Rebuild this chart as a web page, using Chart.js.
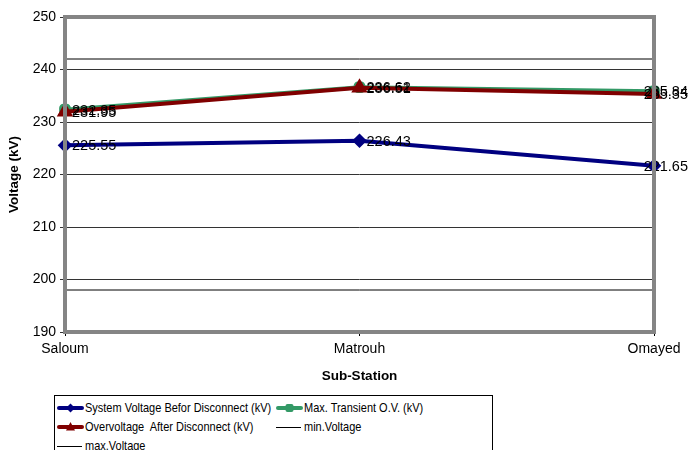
<!DOCTYPE html>
<html>
<head>
<meta charset="utf-8">
<script src="https://cdn.jsdelivr.net/npm/chart.js@4.4.1/dist/chart.umd.min.js"></script>
<style>
  html, body { margin: 0; padding: 0; background: #fff; }
  #wrap { position: relative; width: 688px; height: 450px; overflow: hidden; }
  #chart { position: absolute; left: 0; top: 0; }
  #legend {
    position: absolute; left: 54px; top: 395px; width: 439px; height: 70px;
    border: 1px solid #000; box-sizing: border-box; background: #fff;
    font-family: "Liberation Sans", Arial, sans-serif; font-size: 13px; color: #000;
  }
  .item { position: absolute; white-space: pre; line-height: 16px; }
  .item svg { position: absolute; left: 0; top: 0; }
  .item span { position: absolute; left: 28px; top: 0; transform: scaleX(0.845); transform-origin: 0 50%; }
</style>
</head>
<body>
<div id="wrap">
  <canvas id="chart" width="688" height="450"></canvas>
  <div id="legend"></div>
</div>
<script>
// Sub-stations along the line
const stations = ['Saloum', 'Matrouh', 'Omayed'];

// Measured voltages (kV)
const systemBefore = [225.55, 226.43, 221.65];
const maxTransient = [232.35, 236.62, 235.84];
const overAfter    = [231.95, 236.51, 235.35];

// Permitted voltage band (kV)
const minVoltage = [198, 198, 198];
const maxVoltage = [242, 242, 242];

// Y axis range and step
const yMin = 190, yMax = 250, yStep = 10;

const FONT = '"Liberation Sans", Arial, sans-serif';

const datasets = [
  {
    label: 'System Voltage Befor Disconnect (kV)',
    data: systemBefore,
    borderColor: '#000080', backgroundColor: '#000080',
    borderWidth: 4, pointStyle: 'rectRot', pointRadius: 4.5,
    showValues: true, order: 1
  },
  {
    label: 'Max. Transient O.V. (kV)',
    data: maxTransient,
    borderColor: '#339966', backgroundColor: '#339966',
    borderWidth: 4, pointStyle: 'rectRounded', pointRadius: 4.5,
    showValues: true, order: 3
  },
  {
    label: 'Overvoltage  After Disconnect (kV)',
    data: overAfter,
    borderColor: '#800000', backgroundColor: '#800000',
    borderWidth: 4, pointStyle: 'triangle', pointRadius: 5.5,
    showValues: true, order: 2
  },
  {
    label: 'min.Voltage',
    data: minVoltage,
    borderColor: '#000', backgroundColor: '#000',
    borderWidth: 1, pointRadius: 0, order: 4
  },
  {
    label: 'max.Voltage',
    data: maxVoltage,
    borderColor: '#000', backgroundColor: '#000',
    borderWidth: 1, pointRadius: 0, order: 5
  }
];

// Value labels to the right of each marker, kept inside the canvas
const valueLabels = {
  id: 'valueLabels',
  afterDatasetsDraw(chart) {
    const ctx = chart.ctx;
    ctx.save();
    ctx.font = '14.5px ' + FONT;
    ctx.fillStyle = '#000';
    ctx.textBaseline = 'middle';
    ctx.textAlign = 'left';
    chart.data.datasets.forEach((ds, di) => {
      if (!ds.showValues) return;
      const meta = chart.getDatasetMeta(di);
      meta.data.forEach((pt, i) => {
        const txt = ds.data[i].toFixed(2);
        const w = ctx.measureText(txt).width;
        const x = Math.min(pt.x + 7, chart.width - w);
        ctx.fillText(txt, x, pt.y + 1);
      });
    });
    ctx.restore();
  }
};

// Grey frame round the plot area
const plotFrame = {
  id: 'plotFrame',
  afterDatasetsDraw(chart) {
    const { left, right, top, bottom } = chart.chartArea;
    const ctx = chart.ctx;
    ctx.save();
    ctx.strokeStyle = '#858585';
    ctx.lineWidth = 4;
    ctx.strokeRect(left, top, right - left, bottom - top);
    ctx.restore();
  }
};

new Chart(document.getElementById('chart'), {
  type: 'line',
  data: { labels: stations, datasets },
  options: {
    responsive: false,
    animation: false,
    layout: { padding: { left: 0, right: 34, top: 17, bottom: 63 } },
    plugins: { legend: { display: false }, tooltip: { enabled: false } },
    elements: { line: { tension: 0 } },
    scales: {
      x: {
        offset: false,
        grid: { display: true, drawOnChartArea: false, color: '#000', tickLength: 4 },
        border: { display: false },
        ticks: { color: '#000', font: { family: FONT, size: 14 }, padding: 5, maxRotation: 0 },
        title: { display: true, text: 'Sub-Station', color: '#000',
                 font: { family: FONT, size: 13.5, weight: 'bold' }, padding: { top: 4, bottom: 3 } },
        afterFit(scale) { scale.height = 55; }
      },
      y: {
        min: yMin, max: yMax,
        grid: { color: '#333', lineWidth: 1, tickLength: 5 },
        border: { display: false },
        ticks: { stepSize: yStep, color: '#000', font: { family: FONT, size: 14 }, padding: 4 },
        title: { display: true, text: 'Voltage (kV)', color: '#000',
                 font: { family: FONT, size: 13.5, weight: 'bold' }, padding: { top: 6, bottom: 4 } },
        afterFit(scale) { scale.width = 65; }
      }
    }
  },
  plugins: [valueLabels, plotFrame]
});

// Legend laid out in two columns
const legendPos = [
  { x: 2, y: 4 }, { x: 221, y: 4 },
  { x: 2, y: 23 }, { x: 221, y: 23 },
  { x: 2, y: 42 }
];
const legend = document.getElementById('legend');
const NS = 'http://www.w3.org/2000/svg';
datasets.forEach((ds, k) => {
  const item = document.createElement('div');
  item.className = 'item';
  item.style.left = legendPos[k].x + 'px';
  item.style.top = legendPos[k].y + 'px';
  const svg = document.createElementNS(NS, 'svg');
  svg.setAttribute('width', '27'); svg.setAttribute('height', '16');
  const thin = ds.borderWidth === 1;
  const line = document.createElementNS(NS, 'line');
  line.setAttribute('x1', thin ? '0' : '2'); line.setAttribute('x2', '25');
  line.setAttribute('y1', thin ? '8.5' : '8'); line.setAttribute('y2', thin ? '8.5' : '8');
  line.setAttribute('stroke', ds.borderColor);
  line.setAttribute('stroke-width', thin ? '1' : '4');
  line.setAttribute('stroke-linecap', thin ? 'butt' : 'round');
  svg.appendChild(line);
  if (ds.pointRadius > 0) {
    let m;
    if (ds.pointStyle === 'rectRot') {
      m = document.createElementNS(NS, 'polygon');
      m.setAttribute('points', '13.5,3.5 18,8 13.5,12.5 9,8');
    } else if (ds.pointStyle === 'triangle') {
      m = document.createElementNS(NS, 'polygon');
      m.setAttribute('points', '13.5,3 18,11.5 9,11.5');
    } else {
      m = document.createElementNS(NS, 'rect');
      m.setAttribute('x', '9.5'); m.setAttribute('y', '4');
      m.setAttribute('width', '8'); m.setAttribute('height', '8');
      m.setAttribute('rx', '2');
    }
    m.setAttribute('fill', ds.backgroundColor);
    svg.appendChild(m);
  }
  item.appendChild(svg);
  const span = document.createElement('span');
  span.textContent = ds.label;
  item.appendChild(span);
  legend.appendChild(item);
});
</script>
</body>
</html>
